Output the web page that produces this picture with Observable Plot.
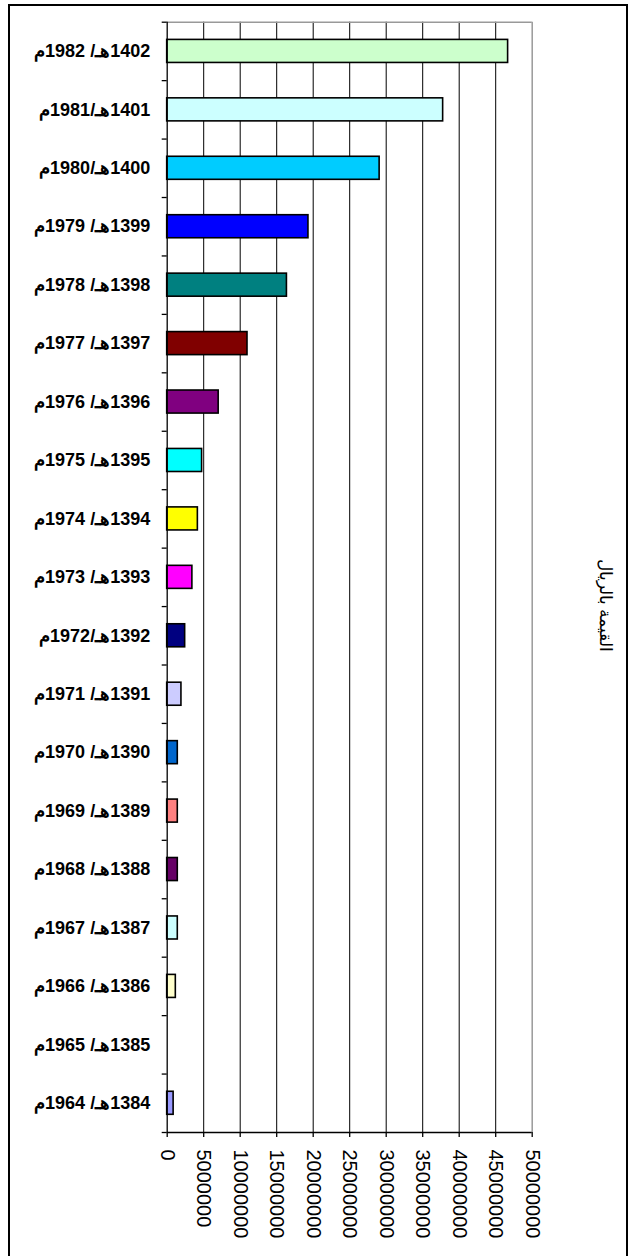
<!DOCTYPE html>
<html>
<head>
<meta charset="utf-8">
<script src="https://cdn.jsdelivr.net/npm/d3@7"></script>
<script src="https://cdn.jsdelivr.net/npm/@observablehq/plot@0.6"></script>
<style>
  html, body { margin: 0; padding: 0; background: #fff; overflow: hidden; }
  #wrap { position: relative; width: 632px; height: 1256px; }
  #border { position: absolute; left: 8px; top: 4px; width: 620px; height: 1270px; border: 2px solid #000; box-sizing: border-box; }
  #chart { position: absolute; left: 0; top: 0; }
</style>
</head>
<body>
<div id="wrap"><div id="border"></div><div id="chart"></div></div>
<script>
// Categories (bottom to top)
const labels = [
  "1384هـ/ 1964م", "1385هـ/ 1965م", "1386هـ/ 1966م", "1387هـ/ 1967م",
  "1388هـ/ 1968م", "1389هـ/ 1969م", "1390هـ/ 1970م", "1391هـ/ 1971م",
  "1392هـ/1972م", "1393هـ/ 1973م", "1394هـ/ 1974م", "1395هـ/ 1975م",
  "1396هـ/ 1976م", "1397هـ/ 1977م", "1398هـ/ 1978م", "1399هـ/ 1979م",
  "1400هـ/1980م", "1401هـ/1981م", "1402هـ/ 1982م"
];
// Values in riyals
const values = [
  880000, 0, 1180000, 1450000,
  1450000, 1450000, 1450000, 1950000,
  2460000, 3450000, 4200000, 4780000,
  7050000, 11000000, 16400000, 19350000,
  29100000, 37800000, 46700000
];
// Bar colours (Excel default palette)
const colors = [
  "#9999FF", "#993366", "#FFFFCC", "#CCFFFF",
  "#660066", "#FF8080", "#0066CC", "#CCCCFF",
  "#000080", "#FF00FF", "#FFFF00", "#00FFFF",
  "#800080", "#800000", "#008080", "#0000FF",
  "#00CCFF", "#CCFFFF", "#CCFFCC"
];
const xTicks = [0, 5000000, 10000000, 15000000, 20000000, 25000000, 30000000, 35000000, 40000000, 45000000, 50000000];
const axisTitle = "القيمة بالريال";

const n = labels.length;
const data = labels.map((label, i) => ({label, value: values[i], color: colors[i], i}));
const centers = d3.range(n).map(i => i + 0.5);
const bounds = d3.range(n + 1);

const chart = Plot.plot({
  width: 632,
  height: 1256,
  marginTop: 21.7,
  marginBottom: 124,
  marginLeft: 166.7,
  marginRight: 100.3,
  style: {background: "transparent", fontFamily: "'Liberation Sans', Arial, sans-serif", color: "#000"},
  x: {domain: [0, 50000000], label: null},
  y: {domain: [0, n], label: null},
  marks: [
    Plot.gridX(xTicks.slice(1, -1), {stroke: "#000", strokeOpacity: 1, strokeWidth: 1}),
    Plot.ruleX([50000000], {stroke: "#999", strokeWidth: 1.5}),
    Plot.ruleY([n], {stroke: "#999", strokeWidth: 1.5}),
    Plot.rectX(data, {
      x: "value", y1: "i", y2: d => d.i + 1,
      fill: "color", stroke: "#000", strokeWidth: 1.6,
      insetTop: 17.7, insetBottom: 17.7
    }),
    Plot.ruleX([0], {stroke: "#000", strokeWidth: 1.3}),
    Plot.ruleY([0], {stroke: "#000", strokeWidth: 1.3}),
    // category boundary ticks
    Plot.axisY(bounds, {tickSize: 5, tickFormat: () => "", label: null, stroke: "#000", strokeWidth: 1.3}),
    // category labels
    Plot.axisY(centers, {
      tickSize: 0, tickPadding: 17, label: null,
      tickFormat: d => "\u202B" + labels[Math.floor(d)] + "\u202C",
      fontSize: 18, fontWeight: "bold", fill: "#000"
    }),
    Plot.axisX(xTicks, {
      tickSize: 5, tickPadding: 12, tickRotate: 90, label: null,
      tickFormat: d => String(d), fontSize: 20, fill: "#000", stroke: "#000", strokeWidth: 1.3
    }),
    Plot.text([axisTitle], {
      frameAnchor: "right", rotate: 90, dx: 73, dy: 75,
      fontSize: 17, fill: "#000"
    })
  ]
});
document.getElementById("chart").appendChild(chart);
</script>
</body>
</html>
